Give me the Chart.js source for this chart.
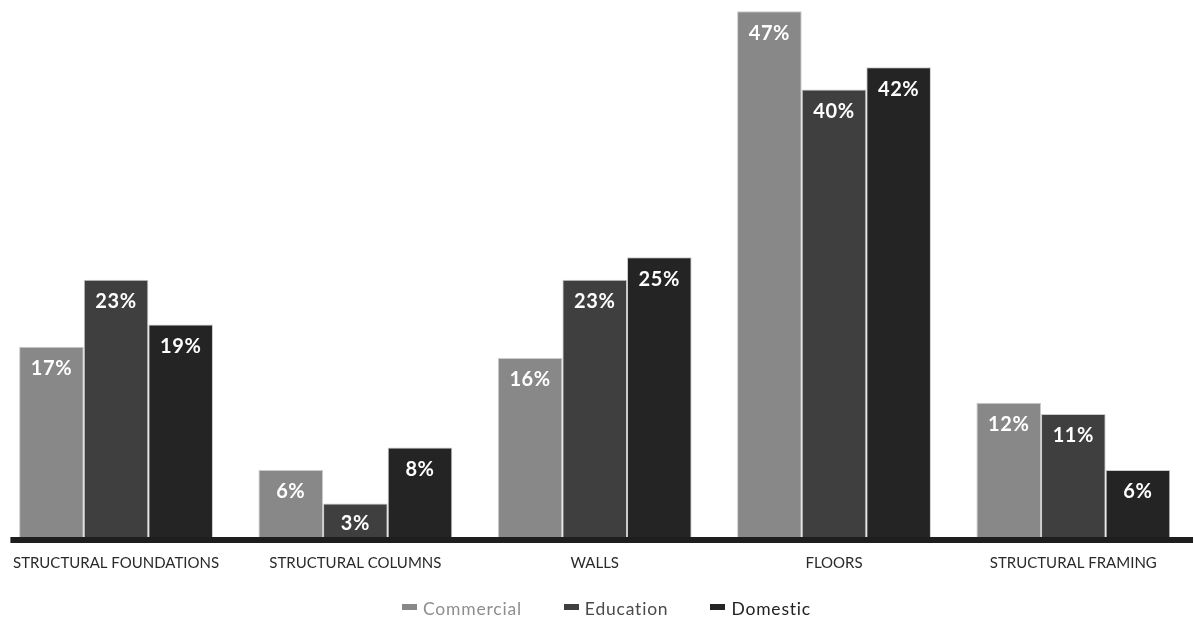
<!DOCTYPE html>
<html>
<head>
<meta charset="utf-8">
<script src="https://cdn.jsdelivr.net/npm/chart.js@4"></script>
<style>
    html, body { margin: 0; padding: 0; background: #fff; overflow: hidden; }
    #wrap { position: absolute; left: -4px; top: 0; width: 1197px; height: 620px; }
    #legend {
        position: absolute; left: 0; top: 598px; width: 1213px;
        display: flex; justify-content: center;
        font-family: Lato, sans-serif; font-size: 17.5px; line-height: 22px; letter-spacing: 0.8px;
    }
    #legend .item { display: flex; align-items: center; margin: 0 21px; }
    #legend .swatch { width: 15px; height: 6px; margin-right: 6px; position: relative; top: -2px; }
</style>
</head>
<body>
<div id="wrap"><canvas id="materialsChart"></canvas></div>
<div id="legend"></div>

<script>
const categories = ['STRUCTURAL FOUNDATIONS', 'STRUCTURAL COLUMNS', 'WALLS', 'FLOORS', 'STRUCTURAL FRAMING'];
const seriesNames = ['Commercial', 'Education', 'Domestic'];
const commercial = [17, 6, 16, 47, 12];
const education = [23, 3, 23, 40, 11];
const domestic = [19, 8, 25, 42, 6];

const barColors = ['#888888', '#3f3f3f', '#242424'];
const legendTextColors = ['#8e8e8e', '#4a4a4a', '#222222'];

// white percentage text just inside the top of each bar
const valueLabels = {
    id: 'valueLabels',
    afterDatasetsDraw(chart) {
        const ctx = chart.ctx;
        ctx.save();
        ctx.font = '700 20px Lato';
        ctx.letterSpacing = '0.6px';
        ctx.fillStyle = '#ffffff';
        ctx.textAlign = 'center';
        ctx.textBaseline = 'middle';
        chart.data.datasets.forEach((ds, i) => {
            chart.getDatasetMeta(i).data.forEach((bar, j) => {
                const h = bar.base - bar.y;
                ctx.fillText(ds.data[j] + '%', bar.x, bar.y + Math.min(22, h / 2 + 3));
            });
        });
        ctx.restore();
    }
};

// heavy dark floor line under the bars
const floorLine = {
    id: 'floorLine',
    afterDatasetsDraw(chart) {
        const { ctx, chartArea } = chart;
        ctx.save();
        ctx.fillStyle = '#1e1e1e';
        ctx.fillRect(chartArea.left + 14, chartArea.bottom, chart.width - chartArea.left - 14, 6);
        ctx.restore();
    }
};

const chart = new Chart(document.getElementById('materialsChart'), {
    type: 'bar',
    data: {
        labels: categories,
        datasets: [commercial, education, domestic].map((values, i) => ({
            label: seriesNames[i],
            data: values,
            backgroundColor: barColors[i],
            borderColor: '#cbcbcb',
            borderWidth: 1,
            borderSkipped: 'bottom',
            categoryPercentage: 0.81,
            barPercentage: 1.0
        }))
    },
    options: {
        responsive: true,
        maintainAspectRatio: false,
        animation: false,
        devicePixelRatio: 1,
        layout: { padding: { top: 0, left: 0, right: 0, bottom: 31 } },
        plugins: {
            legend: { display: false },
            tooltip: { enabled: false }
        },
        scales: {
            x: {
                grid: { display: false, drawTicks: false },
                border: { display: false },
                ticks: {
                    color: '#2a2a2a',
                    padding: 17,
                    font: { family: 'Lato', size: 15 }
                }
            },
            y: {
                display: false,
                min: 0,
                max: 48
            }
        }
    },
    plugins: [valueLabels, floorLine]
});

// legend built from the chart's own datasets
const legendEl = document.getElementById('legend');
chart.data.datasets.forEach((ds, i) => {
    const item = document.createElement('span');
    item.className = 'item';
    const swatch = document.createElement('span');
    swatch.className = 'swatch';
    swatch.style.background = ds.backgroundColor;
    const text = document.createElement('span');
    text.textContent = ds.label;
    text.style.color = legendTextColors[i];
    item.appendChild(swatch);
    item.appendChild(text);
    legendEl.appendChild(item);
});
</script>
</body>
</html>
